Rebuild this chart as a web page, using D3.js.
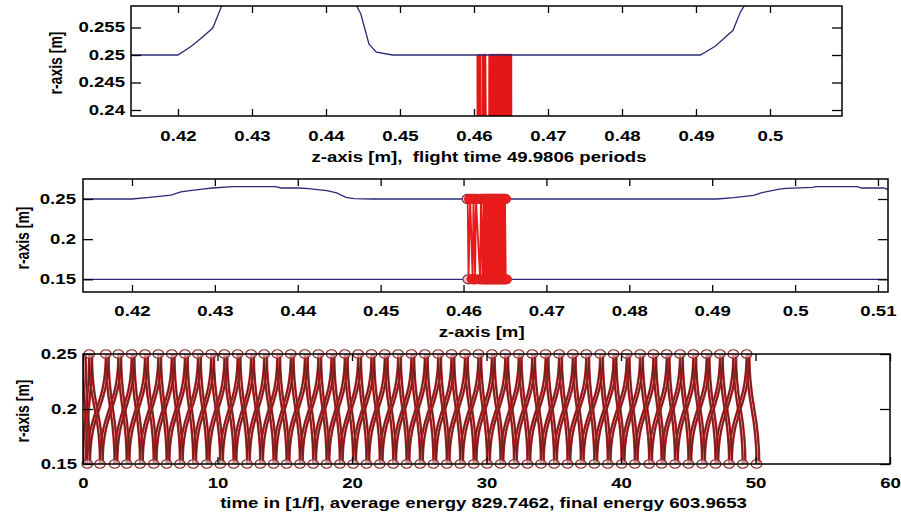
<!DOCTYPE html>
<html>
<head>
<meta charset="utf-8">
<script src="https://cdn.jsdelivr.net/npm/d3@7"></script>
<style>
  html, body { margin: 0; padding: 0; background: #fff; }
  svg { display: block; }
  text { font-family: "Liberation Sans", Arial, Helvetica, sans-serif; font-weight: bold; font-size: 14px; fill: #000; }
</style>
</head>
<body>
<svg id="chart" width="901" height="519"></svg>
<script>
// ---- data -------------------------------------------------------------
// upper wall profile r(z) of the structure [m]
const wallZ = [0.4136, 0.4200, 0.4218, 0.4230, 0.4247, 0.4259, 0.4270, 0.4285, 0.4297, 0.4321,
               0.4373, 0.4380, 0.4401, 0.4413, 0.4435, 0.4447, 0.4458, 0.4468, 0.4490, 0.4906,
               0.4926, 0.4950, 0.4960, 0.4981, 0.4989, 0.5021, 0.5025, 0.5075, 0.5080, 0.5107, 0.5112];
const wallR = [0.2500, 0.2500, 0.2516, 0.2529, 0.2549, 0.2589, 0.2605, 0.2624, 0.2637, 0.2653,
               0.2653, 0.2637, 0.2637, 0.2630, 0.2605, 0.2575, 0.2520, 0.2505, 0.2500, 0.2500,
               0.2516, 0.2545, 0.2578, 0.2624, 0.2633, 0.2646, 0.2653, 0.2653, 0.2637, 0.2637, 0.2618];
// lower wall
const lowerWallZ = [0.4136, 0.5112];
const lowerWallR = [0.15, 0.15];

// axial position of the electron bunch at successive wall hits (top, bottom, top, ...)
const hitZ = [0.4605, 0.4606, 0.4608, 0.4611, 0.4612, 0.4614, 0.4615, 0.4620, 0.4621, 0.4623,
              0.4624, 0.4625, 0.4626, 0.4627, 0.4628, 0.4629, 0.4630, 0.4631, 0.4632, 0.4633,
              0.4634, 0.4635, 0.4636, 0.4637, 0.4638, 0.4639, 0.4640, 0.4641, 0.4642, 0.4643,
              0.4644, 0.4645, 0.4646, 0.4647, 0.4648, 0.4649, 0.4650, 0.4651];
const rTop = 0.25, rBottom = 0.15;

// times [1/f] of hits on the upper (r = 0.25) and lower (r = 0.15) wall
const topHitTimes = [0.47, 1.70, 2.63, 3.62, 4.61, 5.60, 6.60, 7.58, 8.55, 9.53,
                     10.52, 11.50, 12.50, 13.47, 14.45, 15.45, 16.50, 17.50, 18.48, 19.47,
                     20.46, 21.45, 22.44, 23.43, 24.42, 25.42, 26.41, 27.40, 28.40, 29.40,
                     30.40, 31.40, 32.40, 33.40, 34.40, 35.40, 36.42, 37.42, 38.45, 39.45,
                     40.43, 41.42, 42.41, 43.40, 44.39, 45.38, 46.37, 47.36, 48.35, 49.34];
const bottomHitTimes = [0.32, 1.26, 2.35, 3.25, 4.24, 5.26, 6.22, 7.21, 8.20, 9.20,
                        10.20, 11.20, 12.20, 13.18, 14.17, 15.14, 16.13, 17.12, 18.11, 19.10,
                        20.09, 21.08, 22.07, 23.07, 24.06, 25.06, 26.06, 27.05, 28.05, 29.05,
                        30.05, 31.05, 32.05, 33.05, 34.05, 35.03, 36.03, 37.02, 38.02, 39.02,
                        40.05, 41.03, 42.10, 43.02, 44.02, 45.02, 46.03, 47.03, 48.04, 49.05, 50.08];
// starting radius of the two anti-phase orbits at t = 0
const startR = [0.15, 0.25];
// time spread of the bunch around each orbit
const bunchLags = [0, 0.2];

// tick values
const zTicksTop = [0.42, 0.43, 0.44, 0.45, 0.46, 0.47, 0.48, 0.49, 0.50];
const rTicksTop = [0.24, 0.245, 0.25, 0.255];
const zTicksMid = [0.42, 0.43, 0.44, 0.45, 0.46, 0.47, 0.48, 0.49, 0.50, 0.51];
const rTicksMid = [0.15, 0.2, 0.25];
const tTicks = [0, 10, 20, 30, 40, 50, 60];
const rTicksBot = [0.15, 0.2, 0.25];

const flightTime = 49.9806, avgEnergy = 829.7462, finalEnergy = 603.9653;

// ---- layout ------------------------------------------------------------
const SX = 1.33;               // horizontal glyph stretch of the figure
const svg = d3.select("#chart");
const defs = svg.append("defs");

const p1 = { l: 131, r: 842, t: 6, b: 116 };
const p2 = { l: 83, r: 888, t: 179, b: 292 };
const p3 = { l: 83, r: 890, t: 354, b: 464 };

const x1 = d3.scaleLinear().domain([0.41365, 0.50973]).range([p1.l, p1.r]);
const y1 = d3.scaleLinear().domain([0.23891, 0.25891]).range([p1.b, p1.t]);
const x2 = d3.scaleLinear().domain([0.41409, 0.51121]).range([p2.l, p2.r]);
const y2 = d3.scaleLinear().domain([0.13418, 0.27491]).range([p2.b, p2.t]);
const x3 = d3.scaleLinear().domain([0, 60]).range([p3.l, p3.r]);
const y3 = d3.scaleLinear().domain([0.15, 0.25]).range([p3.b, p3.t]);

function clipFor(id, p) {
  defs.append("clipPath").attr("id", id)
    .append("rect").attr("x", p.l).attr("y", p.t).attr("width", p.r - p.l).attr("height", p.b - p.t);
  return svg.append("g").attr("clip-path", `url(#${id})`);
}

function stretch(sel) {
  sel.each(function () {
    const t = d3.select(this);
    const x = +t.attr("x") || 0;
    t.attr("x", x / SX).attr("transform", `scale(${SX},1)`);
  });
}

const fmt = d => String(d);

function axes(p, xs, ys, xt, yt, xPad, yPad) {
  const g = svg.append("g");
  const style = a => {
    a.select(".domain").remove();
    a.selectAll(".tick line").attr("stroke", "#000").attr("stroke-width", 1.3);
  };
  const b = g.append("g").attr("transform", `translate(0,${p.b})`)
    .call(d3.axisBottom(xs).tickValues(xt).tickSize(-7).tickPadding(xPad).tickFormat(fmt)).call(style);
  b.attr("font-family", null).attr("font-size", null);
  stretch(b.selectAll("text"));
  g.append("g").attr("transform", `translate(0,${p.t})`)
    .call(d3.axisTop(xs).tickValues(xt).tickSize(-7).tickFormat("")).call(style);
  const l = g.append("g").attr("transform", `translate(${p.l},0)`)
    .call(d3.axisLeft(ys).tickValues(yt).tickSize(-10).tickPadding(yPad).tickFormat(fmt)).call(style);
  l.attr("font-family", null).attr("font-size", null);
  stretch(l.selectAll("text"));
  g.append("g").attr("transform", `translate(${p.r},0)`)
    .call(d3.axisRight(ys).tickValues(yt).tickSize(-10).tickFormat("")).call(style);
  g.selectAll("text").attr("fill", "#000");
  g.append("rect").attr("x", p.l).attr("y", p.t).attr("width", p.r - p.l).attr("height", p.b - p.t)
    .attr("fill", "none").attr("stroke", "#000").attr("stroke-width", 1.5);
}

function label(x, y, str, rotate) {
  svg.append("text")
    .attr("transform", `translate(${x},${y}) scale(${SX},1)` + (rotate ? " rotate(-90)" : ""))
    .attr("text-anchor", "middle")
    .style("white-space", "pre")
    .text(str);
}

const upperWall = wallZ.map((z, i) => [z, wallR[i]]);
const lowerWall = lowerWallZ.map((z, i) => [z, lowerWallR[i]]);
const bunchPath = hitZ.map((z, i) => [z, i % 2 === 0 ? rTop : rBottom]);
const wallColor = "#2a2a78";

// ---- panel 1: close-up of the upper wall --------------------------------
{
  const g = clipFor("c1", p1);
  const line = d3.line().x(d => x1(d[0])).y(d => y1(d[1]));
  g.append("path").attr("d", line(bunchPath)).attr("fill", "none")
    .attr("stroke", "#e51616").attr("stroke-width", 2.4).attr("stroke-linejoin", "round");
  g.append("path").attr("d", line(upperWall)).attr("fill", "none").attr("stroke", wallColor).attr("stroke-width", 1.3);
  axes(p1, x1, y1, zTicksTop, rTicksTop, 14.8, 6);
  label(479, 161.7, `z-axis [m],  flight time ${flightTime} periods`);
  label(61.7, 63, "r-axis [m]", true);
}

// ---- panel 2: full gap with the bunch trajectory ------------------------
{
  const g = clipFor("c2", p2);
  const line = d3.line().x(d => x2(d[0])).y(d => y2(d[1]));
  g.append("path").attr("d", line(upperWall)).attr("fill", "none").attr("stroke", wallColor).attr("stroke-width", 1.3);
  g.append("path").attr("d", line(lowerWall)).attr("fill", "none").attr("stroke", wallColor).attr("stroke-width", 1.3);
  g.selectAll("ellipse.hit").data(bunchPath).join("ellipse").attr("class", "hit")
    .attr("cx", d => x2(d[0])).attr("cy", d => y2(d[1])).attr("rx", 5.6).attr("ry", 4.6)
    .attr("fill", (d, i) => i < 2 ? "#f4c4c8" : "#e82020")
    .attr("stroke", (d, i) => i < 2 ? "#7a2044" : "#e02020").attr("stroke-width", 1.1);
  g.append("path").attr("d", line(bunchPath)).attr("fill", "none")
    .attr("stroke", "#e81a1a").attr("stroke-width", 1.8).attr("stroke-linejoin", "round");
  axes(p2, x2, y2, zTicksMid, rTicksMid, 13.8, 7);
  label(481.7, 336.5, "z-axis [m]");
  label(28.5, 238, "r-axis [m]", true);
}

// ---- panel 3: radial position versus time -------------------------------
{
  const g = clipFor("c3", p3);
  // orbits leave and reach each wall radially
  const line = d3.line().x(d => x3(d[0])).y(d => y3(d[1])).curve(d3.curveBumpY);
  // two anti-phase orbits built from the alternating wall hits
  const orbits = startR.map((r0, f) => {
    const pts = [[0, r0]];
    for (let k = 0; ; k++) {
      const onTop = (k + f) % 2 === 0;
      const t = onTop ? topHitTimes[k] : bottomHitTimes[k];
      if (t === undefined) break;
      pts.push([t, onTop ? rTop : rBottom]);
    }
    return pts;
  });
  bunchLags.forEach(lag => {
    orbits.forEach(pts => {
      const shifted = pts.map(d => [d[0] + lag, d[1]]);
      g.append("path").attr("d", line(shifted)).attr("fill", "none")
        .attr("stroke", "#c42424").attr("stroke-width", 2.4);
      g.append("path").attr("d", line(shifted)).attr("fill", "none")
        .attr("stroke", "#6a2020").attr("stroke-width", 1.2);
    });
  });
  const hits = topHitTimes.map(t => [t, rTop]).concat(bottomHitTimes.map(t => [t, rBottom]));
  svg.append("g").selectAll("ellipse").data(hits).join("ellipse")
    .attr("cx", d => x3(d[0])).attr("cy", d => y3(d[1])).attr("rx", 5.3).attr("ry", 4.3)
    .attr("fill", "rgba(255,236,236,0.55)").attr("stroke", "#8b2a2a").attr("stroke-width", 1.1);
  axes(p3, x3, y3, tTicks, rTicksBot, 14, 6);
  label(483.5, 508, `time in [1/f], average energy ${avgEnergy}, final energy ${finalEnergy}`);
  label(28.5, 411, "r-axis [m]", true);
}
</script>
</body>
</html>
